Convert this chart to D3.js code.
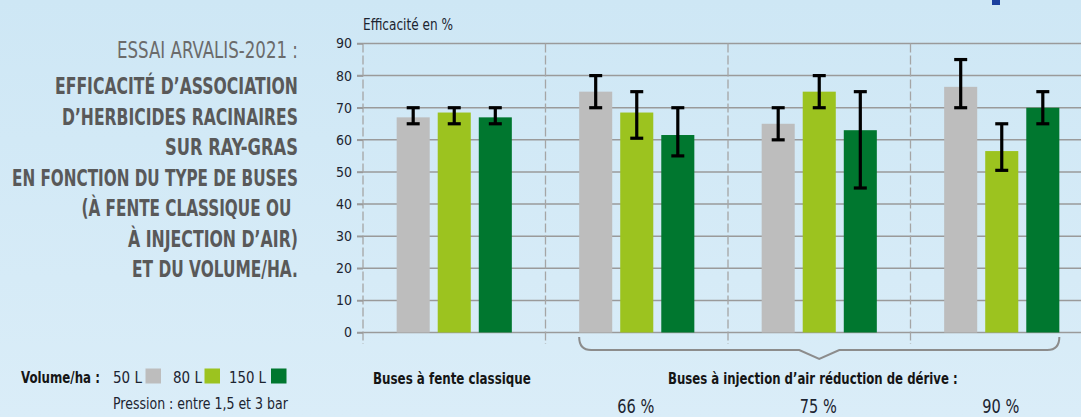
<!DOCTYPE html>
<html><head><meta charset="utf-8">
<script src="https://cdn.jsdelivr.net/npm/d3@7"></script>
<style>
html,body{margin:0;padding:0;}
body{width:1081px;height:417px;overflow:hidden;}
svg{display:block;}
text{font-family:"Liberation Sans Narrow","Arial Narrow","DejaVu Sans Condensed",sans-serif;}
</style></head>
<body>
<svg id="c" width="1081" height="417"></svg>
<script>
// ---- data ----
const categories = ["Buses à fente classique", "66 %", "75 %", "90 %"];
const series = ["50 L", "80 L", "150 L"];
const values50 = [67, 75, 65, 76.5];
const values80 = [68.5, 68.5, 75, 56.5];
const values150 = [67, 61.5, 63, 70];
const errLow50 = [65, 70, 60, 70];
const errHigh50 = [70, 80, 70, 85];
const errLow80 = [65, 60.5, 70, 50.5];
const errHigh80 = [70, 75, 80, 65];
const errLow150 = [65, 55, 45, 65];
const errHigh150 = [70, 70, 75, 75];
const yTicks = [0, 10, 20, 30, 40, 50, 60, 70, 80, 90];
const colors = ["#bdbdbd", "#9cc31f", "#00772f"];
const titleLines = [
  "EFFICACITÉ D’ASSOCIATION",
  "D’HERBICIDES RACINAIRES",
  "SUR RAY-GRAS",
  "EN FONCTION DU TYPE DE BUSES",
  "(À FENTE CLASSIQUE OU",
  "À INJECTION D’AIR)",
  "ET DU VOLUME/HA."
];

const valueSets = [values50, values80, values150];
const lowSets = [errLow50, errLow80, errLow150];
const highSets = [errHigh50, errHigh80, errHigh150];

const FONT = "'Liberation Sans Narrow','Arial Narrow','DejaVu Sans Condensed',sans-serif";
const svg = d3.select("#c");
const W = 1081, H = 417;

// place a text at left x / baseline y, horizontally scaled to a given width
function fitText(parent, str, x0, y0, width, size, weight, fill) {
  const t = parent.append("text").attr("font-size", size).attr("font-weight", weight || "normal")
    .attr("fill", fill).text(str);
  const nat = t.node().getComputedTextLength();
  const sx = nat > 0 ? width / nat : 1;
  t.attr("transform", `translate(${x0},${y0}) scale(${sx},1)`);
  return t;
}

// background gradient
const defs = svg.append("defs");
const g0 = defs.append("linearGradient").attr("id","bg").attr("x1","0").attr("y1","0").attr("x2","0").attr("y2","1");
g0.append("stop").attr("offset","0").attr("stop-color","#cee7f5");
g0.append("stop").attr("offset","1").attr("stop-color","#daedf8");
svg.append("rect").attr("width",W).attr("height",H).attr("fill","url(#bg)");

// scales
const x = d3.scaleBand().domain(categories).range([363, 1093]).padding(0);
const xs = d3.scaleBand().domain(series).range([0, x.bandwidth()]).paddingInner(0.195).paddingOuter(0.82);
const y = d3.scaleLinear().domain([0, 90]).range([332.5, 43.5]);

// horizontal grid
svg.append("g").selectAll("line").data(yTicks).join("line")
  .attr("x1", 357).attr("x2", W)
  .attr("y1", d => y(d)).attr("y2", d => y(d))
  .attr("stroke", "#9a9a9a").attr("stroke-width", 1.5);

// vertical dashed dividers (incl. axis)
const dividers = categories.map(c => x(c));
svg.append("g").selectAll("line").data(dividers).join("line")
  .attr("x1", d => d).attr("x2", d => d)
  .attr("y1", y(90)).attr("y2", 344)
  .attr("stroke", "#a5a5a5").attr("stroke-width", 1.3)
  .attr("stroke-dasharray", "9,3");

// y axis
const yAxis = d3.axisLeft(y).tickValues(yTicks).tickSize(6).tickPadding(5);
const ya = svg.append("g").attr("transform", "translate(363,0)").call(yAxis)
  .attr("font-family", FONT).attr("font-size", 14);
ya.select(".domain").remove();
ya.selectAll(".tick line").attr("stroke", "#9a9a9a").attr("stroke-width", 1.5);
ya.selectAll(".tick text").attr("fill", "#1c2430").attr("font-size", 14);

fitText(svg, "Efficacité en %", 363, 30, 90, 15, "normal", "#1c2430");

// bars
const flat = [];
categories.forEach((c, i) => series.forEach((s, j) => flat.push({c, s, j, v: valueSets[j][i], lo: lowSets[j][i], hi: highSets[j][i]})));
svg.append("g").selectAll("rect").data(flat).join("rect")
  .attr("x", d => x(d.c) + xs(d.s)).attr("width", xs.bandwidth())
  .attr("y", d => y(d.v)).attr("height", d => y(0) - y(d.v))
  .attr("fill", d => colors[d.j]);

// error bars
const eb = svg.append("g").attr("stroke", "#000").attr("stroke-width", 3.2);
flat.forEach(d => {
  const cx = x(d.c) + xs(d.s) + xs.bandwidth() / 2;
  eb.append("line").attr("x1", cx).attr("x2", cx).attr("y1", y(d.hi)).attr("y2", y(d.lo));
  eb.append("line").attr("x1", cx - 6.5).attr("x2", cx + 6.5).attr("y1", y(d.hi)).attr("y2", y(d.hi));
  eb.append("line").attr("x1", cx - 6.5).attr("x2", cx + 6.5).attr("y1", y(d.lo)).attr("y2", y(d.lo));
});

// brace under air-injection groups
const bx0 = x(categories[1]) + xs(series[0]);
const bx1 = x(categories[3]) + xs(series[2]) + xs.bandwidth();
const bm = (bx0 + bx1) / 2;
const p = d3.path();
p.moveTo(bx0, 337); p.quadraticCurveTo(bx0, 350, bx0 + 12, 350);
p.lineTo(bm - 20, 350); p.lineTo(bm, 359); p.lineTo(bm + 20, 350);
p.lineTo(bx1 - 12, 350); p.quadraticCurveTo(bx1, 350, bx1, 337);
svg.append("path").attr("d", p.toString()).attr("fill", "none").attr("stroke", "#8c8c8c").attr("stroke-width", 2);

// group labels
fitText(svg, categories[0], 373, 383.5, 158, 16, "bold", "#151515");
fitText(svg, "Buses à injection d’air réduction de dérive :", 668, 383.5, 290, 16, "bold", "#151515");
categories.slice(1).forEach(c => {
  fitText(svg, c, x(c) + x.bandwidth() / 2 - 19.5, 413, 37, 19, "normal", "#1c2430");
});

// title block
fitText(svg, "ESSAI ARVALIS-2021 :", 298 - 181, 58, 181, 23, "normal", "#6b6b6b");
const tBase = [94, 124.5, 155, 185.5, 216, 246.5, 277];
const tLen = [243, 236, 133, 286, 210, 170, 166];
const tRight = [298, 298, 298, 298, 291.5, 298, 298];
const tg = svg.append("g");
titleLines.forEach((s, i) => {
  fitText(tg, s, tRight[i] - tLen[i], tBase[i], tLen[i], 23, "bold", "#595959");
});

// legend
fitText(svg, "Volume/ha :", 21, 383, 79, 16, "bold", "#151515");
const legX = [113, 173, 229];
const legW = [29, 29, 37];
const sqX = [145.5, 204.5, 271];
series.forEach((s, j) => {
  fitText(svg, s, legX[j], 383, legW[j], 16, "normal", "#1c2430");
  svg.append("rect").attr("x", sqX[j]).attr("y", 368.5).attr("width", 15.5).attr("height", 15).attr("fill", colors[j]);
});
fitText(svg, "Pression : entre 1,5 et 3 bar", 113, 408.5, 175, 16, "normal", "#1c2430");

// small blue mark at top edge (cropped element)
svg.append("rect").attr("x", 992).attr("y", 0).attr("width", 8).attr("height", 5).attr("fill", "#1b3f9e");
</script>
</body></html>
